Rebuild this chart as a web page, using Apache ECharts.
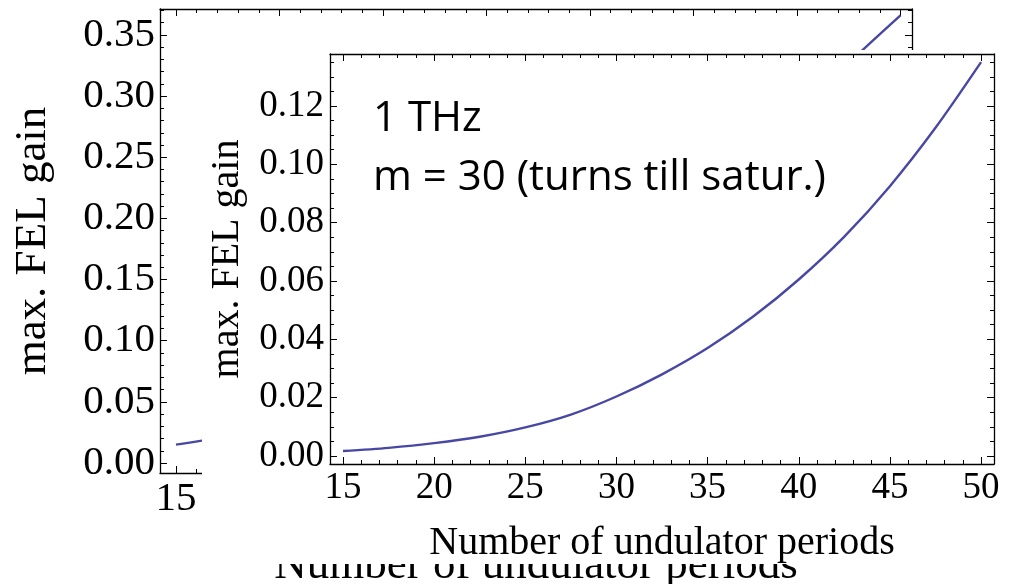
<!DOCTYPE html>
<html>
<head>
<meta charset="utf-8">
<style>
    html, body { margin: 0; padding: 0; background: #ffffff; }
    #chart { width: 1023px; height: 584px; }
</style>
<script src="https://cdn.jsdelivr.net/npm/echarts@6/dist/echarts.min.js"></script>
</head>
<body>
<div id="chart"></div>
<script>
// undulator periods (x) and max. FEL gain
const periods = [15, 17.5, 20, 22.5, 25, 27.5, 30, 32.5, 35, 37.5, 40, 42.5, 45, 47.5, 50];
const gainFront = [0.0017, 0.0028, 0.0044, 0.0066, 0.0098, 0.0142, 0.0204, 0.028, 0.037, 0.0478, 0.0605, 0.0752, 0.0925, 0.1125, 0.135];
const gainBack = [0.015, 0.022, 0.032, 0.044, 0.058, 0.075, 0.095, 0.118, 0.145, 0.175, 0.208, 0.245, 0.285, 0.327, 0.366];

const xTitle = "Number of undulator periods";
const yTitle = "max. FEL gain";
const noteLines = ["1 THz", "m = 30 (turns till satur.)"];

const SERIF = "'Liberation Serif', 'DejaVu Serif', serif";
const LINE_COLOR = "#4848a4";

function toPoints(xs, ys) {
    return xs.map((x, i) => [x, ys[i]]);
}

function frameAxis(cfg) {
    const axis = {
        type: "value",
        gridIndex: cfg.grid,
        position: cfg.position,
        min: cfg.min,
        max: cfg.max,
        minInterval: cfg.step,
        maxInterval: cfg.step,
        splitNumber: 7,
        zlevel: cfg.zlevel,
        axisLine: { show: true, onZero: false, lineStyle: { color: "#000", width: 1.3 } },
        axisTick: { show: true, inside: true, length: 7, lineStyle: { color: "#000", width: 1 } },
        minorTick: { show: true, splitNumber: cfg.minor, length: 4, lineStyle: { color: "#000", width: 1 } },
        splitLine: { show: false },
        axisLabel: { show: false },
    };
    if (cfg.labels) {
        axis.axisLabel = {
            show: true,
            showMinLabel: false,
            showMaxLabel: false,
            margin: cfg.margin,
            color: "#000",
            fontFamily: SERIF,
            fontSize: cfg.fontSize,
            formatter: cfg.format,
        };
        axis.name = cfg.name;
        axis.nameLocation = "middle";
        axis.nameGap = cfg.nameGap;
        axis.nameMoveOverlap = false;
        axis.nameTextStyle = { color: "#000", fontFamily: SERIF, fontSize: cfg.nameSize };
    }
    return axis;
}

const xInt = (v) => String(Math.round(v));
const yTwo = (v) => v.toFixed(2);

const back = { grid: 0, zlevel: 0 };
const front = { grid: 1, zlevel: 2 };

const xAxes = [
    frameAxis({ ...back, position: "bottom", min: 14.227, max: 50.556, step: 5, minor: 5, labels: true,
        margin: 6, fontSize: 41, format: xInt, name: xTitle, nameGap: 71, nameSize: 45 }),
    frameAxis({ ...back, position: "top", min: 14.227, max: 50.556, step: 5, minor: 5 }),
    frameAxis({ ...front, position: "bottom", min: 14.287, max: 50.71, step: 5, minor: 5, labels: true,
        margin: 6, fontSize: 37, format: xInt, name: xTitle, nameGap: 59, nameSize: 40 }),
    frameAxis({ ...front, position: "top", min: 14.287, max: 50.71, step: 5, minor: 5 }),
];

const yAxes = [
    frameAxis({ ...back, position: "left", min: -0.00818, max: 0.3712, step: 0.05, minor: 5, labels: true,
        margin: 5, fontSize: 41, format: yTwo, name: yTitle, nameGap: 104, nameSize: 45 }),
    frameAxis({ ...back, position: "right", min: -0.00818, max: 0.3712, step: 0.05, minor: 5 }),
    frameAxis({ ...front, position: "left", min: -0.00274, max: 0.1378, step: 0.02, minor: 4, labels: true,
        margin: 6, fontSize: 37, format: yTwo, name: yTitle, nameGap: 83, nameSize: 40 }),
    frameAxis({ ...front, position: "right", min: -0.00274, max: 0.1378, step: 0.02, minor: 4 }),
];

const chart = echarts.init(document.getElementById("chart"));

chart.setOption({
    animation: false,
    backgroundColor: "#ffffff",
    grid: [
        { left: 160, right: 111, top: 9, bottom: 111, outerBoundsMode: "none" },
        { left: 330, right: 29, top: 54, bottom: 120, outerBoundsMode: "none" },
    ],
    xAxis: xAxes,
    yAxis: yAxes,
    series: [
        {
            type: "line",
            xAxisIndex: 0,
            yAxisIndex: 0,
            zlevel: 0,
            data: toPoints(periods, gainBack),
            smooth: 0.3,
            showSymbol: false,
            lineStyle: { color: LINE_COLOR, width: 2.4 },
        },
        {
            type: "line",
            xAxisIndex: 2,
            yAxisIndex: 2,
            zlevel: 2,
            data: toPoints(periods, gainFront),
            smooth: 0.3,
            showSymbol: false,
            lineStyle: { color: LINE_COLOR, width: 2.4 },
        },
    ],
    graphic: {
        elements: [
            {
                // white sheet of the front plot, hides most of the back one
                type: "rect",
                zlevel: 1,
                shape: { x: 202, y: 50, width: 821, height: 514 },
                style: { fill: "#ffffff" },
            },
            ...noteLines.map((line, i) => ({
                type: "text",
                zlevel: 3,
                x: 373,
                y: 119 + i * 59,
                style: {
                    text: line,
                    fill: "#000",
                    fontFamily: "'Open Sans', Lato, sans-serif",
                    fontSize: 42,
                    verticalAlign: "middle",
                    textVerticalAlign: "middle",
                },
            })),
        ],
    },
});
</script>
</body>
</html>
